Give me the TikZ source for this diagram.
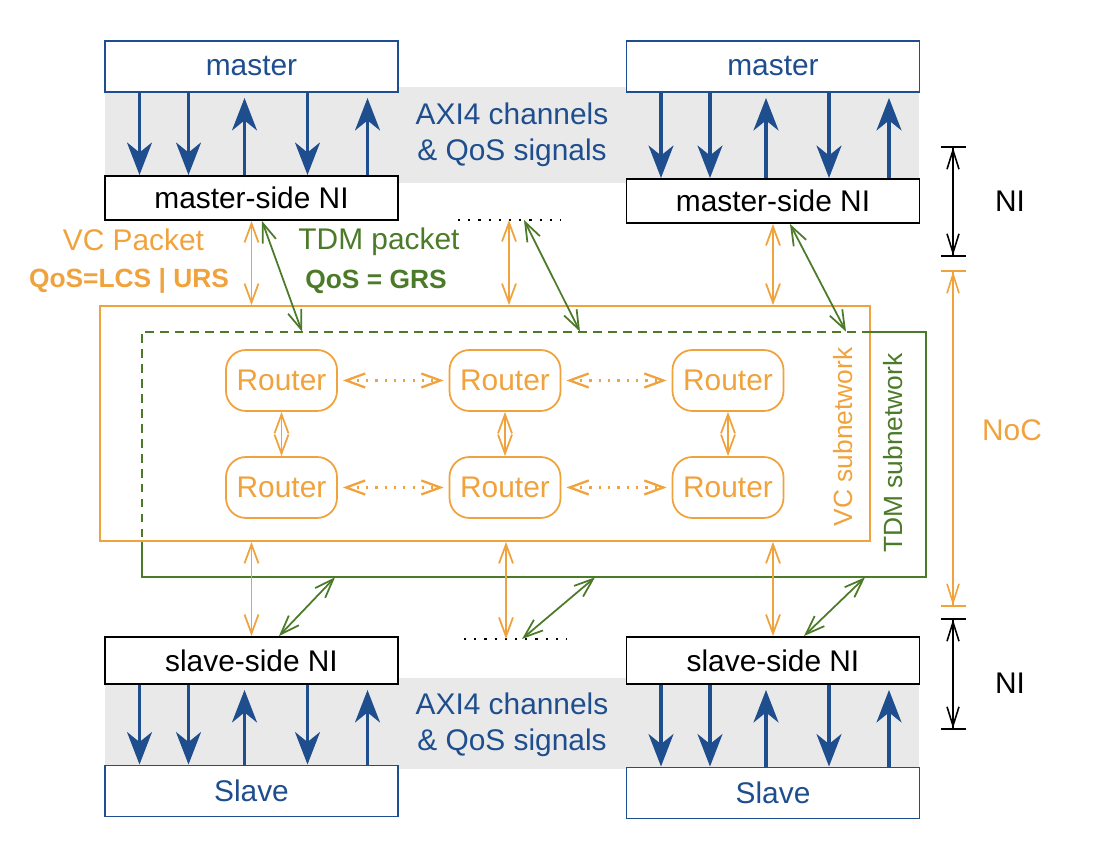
\documentclass[tikz,border=0pt]{standalone}
\usepackage{fontspec}
\setmainfont{Liberation Sans}
\usetikzlibrary{arrows.meta}

\definecolor{axiblue}{HTML}{1F4E8F}
\definecolor{vcorange}{HTML}{F0A23C}
\definecolor{tdmgreen}{HTML}{4B7A28}
\definecolor{bandgray}{HTML}{E9E9E9}

\begin{document}
\begin{tikzpicture} [
    box/.style={rectangle, draw=axiblue, fill=white, line width=1.1pt, minimum width=5.86cm, minimum height=1.02cm, text=axiblue, font=\fontsize{17}{20.4}\selectfont},
    nibox/.style={rectangle, draw=black, fill=white, line width=1.1pt, minimum width=5.86cm, minimum height=0.88cm, font=\fontsize{17}{20.4}\selectfont},
    router/.style={rectangle, draw=vcorange, rounded corners=0.4cm, line width=1pt, minimum width=2.22cm, minimum height=1.22cm, text=vcorange, font=\fontsize{17}{20.4}\selectfont},
    txt/.style={font=\fontsize{17}{20.4}\selectfont, align=center},
    qos/.style={font=\fontsize{15}{18}\selectfont\bfseries},
    sub/.style={font=\fontsize{15}{18}\selectfont, rotate=90},
    axi/.style={line width=1.8pt, axiblue, -{Stealth[length=6.5mm, width=5mm, inset=2mm]}},
    vclink/.style={vcorange, line width=1pt, {Straight Barb[length=3.8mm, width=2.8mm]}-{Straight Barb[length=3.8mm, width=2.8mm]}},
    tdmlink/.style={tdmgreen, line width=1pt, {Straight Barb[length=3.8mm, width=2.8mm]}-{Straight Barb[length=3.8mm, width=2.8mm]}},
    meshlink/.style={vclink, line width=1.3pt, dash pattern=on 1.3pt off 4pt, shorten <=1mm, shorten >=1mm},
    dim/.style={line width=0.9pt, {Bar[width=5mm] Straight Barb[length=3.8mm, width=2.4mm]}-{Straight Barb[length=3.8mm, width=2.4mm] Bar[width=5mm]}},
    dotline/.style={line width=1.2pt, dash pattern=on 1.3pt off 4.5pt}
]
    \useasboundingbox (0,0) rectangle (21.88,17.36);

    % AXI4 bands
    \fill[bandgray] (2.1,15.62) rectangle (18.38,13.7);
    \fill[bandgray] (2.1,3.8) rectangle (18.38,1.98);

    % master side
    \node[box] (mL) at (5.03,16.03) {master};
    \node[box] (mR) at (15.46,16.03) {master};
    \node[nibox] (nmL) at (5.03,13.4) {master-side NI};
    \node[nibox] (nmR) at (15.46,13.34) {master-side NI};
    \node[txt, text=axiblue] (axiT) at (10.24,14.66) {AXI4 channels\\\& QoS signals};

    % slave side
    \node[nibox, minimum height=0.94cm] (nsL) at (5.03,4.15) {slave-side NI};
    \node[nibox, minimum height=0.94cm] (nsR) at (15.46,4.15) {slave-side NI};
    \node[box] (slL) at (5.03,1.54) {Slave};
    \node[box] (slR) at (15.46,1.5) {Slave};
    \node[txt, text=axiblue] (axiB) at (10.24,2.86) {AXI4 channels\\\& QoS signals};

    % AXI4 channels (down: 1,2,4 / up: 3,5)
    \foreach \u/\l in {mL/nmL, mR/nmR, nsL/slL, nsR/slR} {
        \foreach \d in {-2.24,-1.26,1.12}
            \draw[axi] ([xshift=\d cm]\u.south) -- ([xshift=\d cm]\u.south |- \l.north);
        \foreach \d in {-0.14,2.32}
            \draw[axi, shorten >=1mm] ([xshift=\d cm]\u.south |- \l.north) -- ([xshift=\d cm]\u.south);
    }

    % subnetworks
    \node[draw=vcorange, line width=1pt, minimum width=15.4cm, minimum height=4.7cm] (vcnet) at (9.7,8.89) {};
    \node[minimum width=15.68cm, minimum height=4.9cm] (tdmnet) at (10.68,8.27) {};
    \draw[tdmgreen, line width=1.2pt, dash pattern=on 5pt off 3.5pt] (tdmnet.north -| vcnet.east) -- (tdmnet.north west) -- (tdmnet.west |- vcnet.south);
    \draw[tdmgreen, line width=1.2pt] (tdmnet.north -| vcnet.east) -- (tdmnet.north east) -- (tdmnet.south east) -- (tdmnet.south west) -- (tdmnet.west |- vcnet.south);
    \node[sub, text=vcorange] (vclbl) at (16.86,8.62) {VC subnetwork};
    \node[sub, text=tdmgreen] (tdmlbl) at (17.86,8.3) {TDM subnetwork};

    % routers
    \node[router] (r11) at (5.63,9.75) {Router};
    \node[router] (r12) at (10.1,9.75) {Router};
    \node[router] (r13) at (14.56,9.75) {Router};
    \node[router] (r21) at (5.63,7.61) {Router};
    \node[router] (r22) at (10.1,7.61) {Router};
    \node[router] (r23) at (14.56,7.61) {Router};

    \draw[meshlink] (r11) -- (r12);
    \draw[meshlink] (r12) -- (r13);
    \draw[meshlink] (r21) -- (r22);
    \draw[meshlink] (r22) -- (r23);
    \draw[vclink] (r11) -- (r21);
    \draw[vclink] (r12) -- (r22);
    \draw[vclink] (r13) -- (r23);

    % packet labels
    \node[txt, text=vcorange] (vcpk) at (2.67,12.56) {VC Packet};
    \node[qos, text=vcorange] (vcqos) at (2.58,11.74) {QoS=LCS | URS};
    \node[txt, text=tdmgreen] (tdmpk) at (7.58,12.52) {TDM packet};
    \node[qos, text=tdmgreen] (tdmqos) at (7.52,11.72) {QoS = GRS};

    % "more" markers
    \coordinate (dotT) at (10.18,12.96);
    \coordinate (dotTa) at (9.16,12.96);
    \coordinate (dotTb) at (11.2,12.96);
    \coordinate (dotB) at (10.12,4.58);
    \coordinate (dotBa) at (9.28,4.58);
    \coordinate (dotBb) at (11.34,4.58);
    \draw[dotline] (dotTa) -- (dotTb);
    \draw[dotline] (dotBa) -- (dotBb);

    % NI <-> NoC links (top)
    \draw[vclink] (nmL.south) -- (nmL.south |- vcnet.north);
    \draw[vclink] (dotT) -- (dotT |- vcnet.north);
    \draw[vclink] (nmR.south) -- (nmR.south |- vcnet.north);
    \draw[tdmlink] ([xshift=0.21cm]nmL.south) -- ([xshift=1.01cm]nmL.south |- tdmnet.north);
    \draw[tdmlink] ([xshift=0.3cm]dotT) -- ([xshift=1.42cm]dotT |- tdmnet.north);
    \draw[tdmlink] ([xshift=0.34cm]nmR.south) -- ([xshift=1.46cm]nmR.south |- tdmnet.north);

    % NI <-> NoC links (bottom)
    \draw[vclink] (nsL.north |- vcnet.south) -- (nsL.north);
    \draw[vclink] (dotB |- vcnet.south) -- (dotB);
    \draw[vclink] (nsR.north |- vcnet.south) -- (nsR.north);
    \draw[tdmlink] ([xshift=0.55cm]nsL.north) -- ([xshift=1.67cm]nsL.north |- tdmnet.south);
    \draw[tdmlink] ([xshift=0.32cm]dotB) -- ([xshift=1.78cm]dotB |- tdmnet.south);
    \draw[tdmlink] ([xshift=0.62cm]nsR.north) -- ([xshift=1.84cm]nsR.north |- tdmnet.south);

    % layer markers
    \coordinate (niT1) at (19.06,14.44);
    \coordinate (niT2) at (19.06,12.22);
    \coordinate (nocT) at (19.06,11.96);
    \coordinate (nocB) at (19.06,5.22);
    \coordinate (niB1) at (19.06,5.0);
    \coordinate (niB2) at (19.06,2.76);
    \draw[dim] (niT1) -- (niT2);
    \draw[dim, vcorange] (nocT) -- (nocB);
    \draw[dim] (niB1) -- (niB2);
    \node[txt] (niTlbl) at (20.2,13.34) {NI};
    \node[txt, text=vcorange] (noclbl) at (20.24,8.76) {NoC};
    \node[txt] (niBlbl) at (20.2,3.7) {NI};
\end{tikzpicture}
\end{document}
